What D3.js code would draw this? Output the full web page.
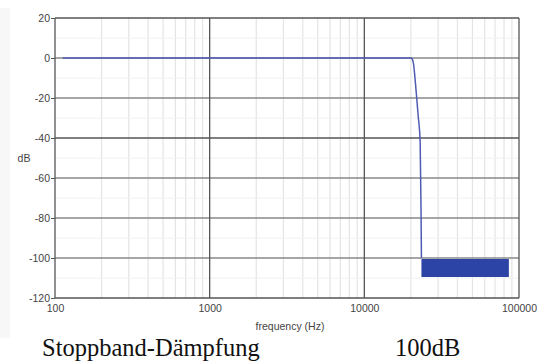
<!DOCTYPE html>
<html><head><meta charset="utf-8">
<script src="https://cdn.jsdelivr.net/npm/d3@7"></script>
<style>body{margin:0;background:#fff}svg{display:block}</style>
</head><body>
<script>
// Data
const freqTicks = [100, 1000, 10000, 100000];
const freqTickLabels = ["100", "1000", "10000", "100000"];
const dbTicks = [20, 0, -20, -40, -60, -80, -100, -120];
const dbTickLabels = ["20", "0", "-20", "-40", "-60", "-80", "-100", "-120"];
const respFreq = [112, 1000, 10000, 20000, 20400, 20800, 21200, 21700, 22300, 22960, 23250, 23400];
const respDb   = [0, 0, 0, 0, -0.5, -3, -9, -18, -29, -42, -75, -100];
const floorFreq = [23400, 86000];
const floorTop = [-100.5, -100.5];
const floorBottom = [-109.5, -109.5];

const W = 537, H = 363;
const m = {l: 55, r: 519, t: 18, b: 298};
const svg = d3.select("body").append("svg").attr("width", W).attr("height", H);

const x = d3.scaleLog().domain([100, 100000]).range([m.l, m.r]);
const y = d3.scaleLinear().domain([-120, 20]).range([m.b, m.t]);

svg.append("rect").attr("x", 0).attr("y", 8).attr("width", 10).attr("height", 330).attr("fill", "#f7f7f7");

const g = svg.append("g");
// minor vertical grid
const minors = [];
for (let d = 100; d < 100000; d *= 10) for (let k = 2; k <= 9; k++) minors.push(d * k);
g.selectAll("line.minor").data(minors).join("line")
  .attr("x1", d => x(d)).attr("x2", d => x(d)).attr("y1", m.t).attr("y2", m.b)
  .attr("stroke", "#e4e4e4").attr("stroke-width", 1.2);
// minor horizontal
const minorH = d3.range(-110, 20, 20);
g.selectAll("line.minh").data(minorH).join("line")
  .attr("x1", m.l).attr("x2", m.r).attr("y1", d => y(d)).attr("y2", d => y(d))
  .attr("stroke", "#f0f0f0").attr("stroke-width", 1);

// major horizontal
g.selectAll("line.majh").data(dbTicks).join("line")
  .attr("x1", m.l).attr("x2", m.r).attr("y1", d => y(d)).attr("y2", d => y(d))
  .attr("stroke", d => (d === 20 || d === -120 || d === -40) ? "#555" : "#888").attr("stroke-width", 1.3);
// major vertical
g.selectAll("line.majv").data(freqTicks).join("line")
  .attr("x1", d => x(d)).attr("x2", d => x(d)).attr("y1", m.t).attr("y2", m.b)
  .attr("stroke", "#555").attr("stroke-width", 1.3);

// axes labels
const yAxis = d3.axisLeft(y).tickValues(dbTicks).tickSize(4).tickFormat((d, i) => dbTickLabels[i]);
const ya = svg.append("g").attr("transform", `translate(${m.l},0)`).call(yAxis);
ya.select(".domain").remove();
ya.selectAll("line").attr("stroke", "#555");
ya.selectAll("text").attr("font-family", "Liberation Sans, Arial, sans-serif").attr("font-size", 10.5).attr("fill", "#444").attr("x", -5);

const xAxis = d3.axisBottom(x).tickValues(freqTicks).tickSize(0).tickFormat((d, i) => freqTickLabels[i]);
const xa = svg.append("g").attr("transform", `translate(0,${m.b})`).call(xAxis);
xa.select(".domain").remove();
xa.selectAll("text").attr("font-family", "Liberation Sans, Arial, sans-serif").attr("font-size", 10.5).attr("fill", "#444").attr("dy", "1.0em");

svg.append("text").attr("x", 24).attr("y", 162).attr("text-anchor", "middle")
  .attr("font-family", "Liberation Sans, Arial, sans-serif").attr("font-size", 10.5).attr("fill", "#444").text("dB");
svg.append("text").attr("x", 290).attr("y", 330).attr("text-anchor", "middle")
  .attr("font-family", "Liberation Sans, Arial, sans-serif").attr("font-size", 10.5).attr("fill", "#444").text("frequency (Hz)");

// noise floor band
const bandData = floorFreq.map((f, i) => ({f, t: floorTop[i], b: floorBottom[i]}));
svg.append("path").datum(bandData)
  .attr("d", d3.area().x(d => x(d.f)).y0(d => y(d.b)).y1(d => y(d.t)))
  .attr("fill", "#2c44a6");

// response line
const resp = respFreq.map((f, i) => ({f, v: respDb[i]}));
svg.append("path").datum(resp)
  .attr("d", d3.line().x(d => x(d.f)).y(d => y(d.v)).curve(d3.curveMonotoneX))
  .attr("fill", "none").attr("stroke", "#4f5bb3").attr("stroke-width", 1.5);

// bottom caption
svg.append("text").attr("x", 42).attr("y", 356).attr("font-family", "Liberation Serif, Times New Roman, serif")
  .attr("font-size", 24.5).attr("fill", "#111").text("Stoppband-Dämpfung");
svg.append("text").attr("x", 395).attr("y", 356).attr("font-family", "Liberation Serif, Times New Roman, serif")
  .attr("font-size", 24.5).attr("fill", "#111").text("100dB");
</script>
</body></html>
